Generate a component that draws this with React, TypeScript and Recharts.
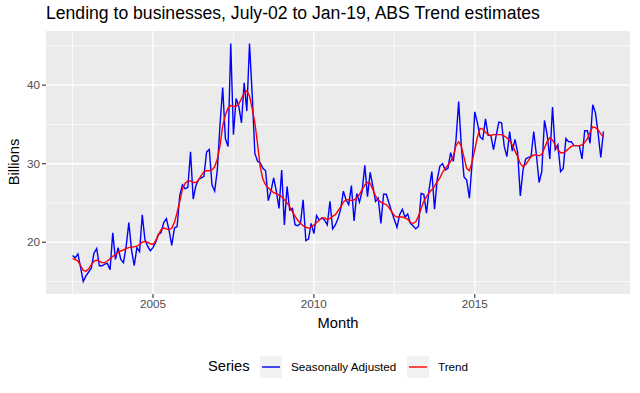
import { LineChart, Line, XAxis, YAxis, CartesianGrid } from "recharts";

// monthly, July 2002 .. January 2019 ($ billions)
const START_YEAR = 2002.5;

const seasonallyAdjusted = [
  18.3, 18.0, 18.5, 16.8, 15.0, 15.7, 16.2, 16.7, 18.6, 19.2, 17.0, 17.0,
  17.2, 17.3, 16.5, 21.2, 17.8, 19.3, 17.8, 17.4, 19.5, 22.5, 19.0, 17.0,
  19.3, 18.8, 23.5, 20.3, 19.5, 18.9, 19.3, 20.0, 21.0, 21.2, 22.5, 23.0,
  21.5, 19.6, 21.8, 22.0, 26.0, 27.3, 26.8, 27.0, 31.5, 25.5, 27.2, 28.0,
  28.2, 28.4, 31.5, 31.8, 27.3, 26.5, 29.2, 35.0, 39.7, 33.2, 32.2, 45.3,
  33.7, 38.3, 37.3, 35.2, 40.3, 36.7, 45.3, 38.8, 31.3, 30.3, 30.1, 29.4,
  29.1, 25.3, 26.5, 28.2, 26.5, 24.3, 29.2, 22.2, 27.1, 24.1, 24.3, 22.2,
  22.1, 22.4, 25.4, 20.2, 20.4, 22.4, 21.1, 23.4, 22.8, 23.1, 22.8, 22.2,
  25.2, 21.7, 22.2, 23.0, 24.2, 26.5, 25.4, 24.8, 27.2, 22.7, 26.2, 25.1,
  26.5, 29.8, 25.8, 28.9, 27.1, 25.2, 25.6, 22.4, 26.1, 26.1, 25.0, 23.9,
  22.9, 21.9, 23.5, 24.2, 23.2, 23.6, 22.4, 22.1, 21.7, 22.0, 26.2, 26.1,
  23.7, 26.8, 29.0, 24.2, 28.0, 29.7, 30.0, 29.2, 29.4, 31.4, 30.3, 33.0,
  37.9, 32.2, 28.3, 27.9, 25.6, 30.0, 36.6, 35.2, 33.4, 33.1, 35.7, 33.6,
  33.6, 31.8, 33.6, 35.3, 35.2, 32.2, 30.9, 34.1, 31.6, 33.1, 31.4, 25.9,
  29.2, 30.6, 30.8, 30.9, 34.1, 31.1, 27.6, 29.0, 35.5, 33.7, 30.6, 37.2,
  31.8, 32.4, 29.0, 29.4, 33.2, 32.8, 32.8, 32.3, 32.3, 32.3, 30.6, 34.2,
  34.2, 32.6, 37.5, 36.5, 33.9, 30.8, 34.1,
];

const trend = [
  17.9, 17.8, 17.6, 17.0, 16.4, 16.3, 16.6, 17.1, 17.6, 17.7, 17.6, 17.4,
  17.4, 17.6, 17.9, 18.2, 18.4, 18.7, 18.9, 19.0, 19.2, 19.3, 19.4, 19.4,
  19.5, 19.7, 20.0, 20.1, 20.0, 19.8, 19.7, 20.2, 20.9, 21.6, 21.8, 21.7,
  21.6, 21.8, 22.5, 23.8, 25.2, 26.8, 27.5, 27.8, 27.8, 27.6, 27.6, 27.9,
  28.5, 29.0, 29.1, 29.1, 29.2, 29.6, 30.6, 32.3, 34.8, 36.2, 37.1, 37.4,
  37.3, 37.3, 37.6, 38.3, 39.0, 39.3, 38.6, 37.0, 35.2, 32.5, 29.6, 28.0,
  27.3, 26.9, 26.6, 26.3, 26.2, 26.0, 25.8, 25.4, 25.0, 24.5, 23.9, 23.3,
  22.8, 22.4, 22.1, 21.9, 21.8, 21.9, 22.2, 22.5, 22.8, 23.1, 23.1, 22.9,
  23.0, 23.3, 23.5, 24.0, 24.5, 25.1, 25.4, 25.4, 25.3, 25.4, 25.6, 26.1,
  26.7, 27.3, 27.6, 27.5, 26.7, 25.9, 25.4, 25.1, 24.9, 24.8, 24.4, 23.9,
  23.4, 23.2, 23.2, 23.2, 23.1, 22.9, 22.5, 22.4, 22.6, 23.3, 24.3, 25.2,
  25.8, 26.3, 26.7, 27.1, 27.7, 28.2, 28.9, 29.4, 29.8, 30.3, 30.9, 32.3,
  32.8, 32.2, 30.8, 29.4, 29.1, 30.2, 31.8, 33.4, 34.5, 34.4, 34.0, 33.7,
  33.6, 33.7, 33.7, 33.7, 33.7, 33.5, 33.3, 32.9, 32.4, 31.6, 30.9, 30.0,
  29.6, 29.9, 30.4, 30.9, 31.1, 31.1, 31.0, 31.2, 32.0, 32.8, 33.3, 33.0,
  32.4, 31.8, 31.4, 31.4, 31.6, 31.9, 32.2, 32.3, 32.3, 32.3, 32.4, 32.7,
  33.2, 34.0, 34.7, 34.6, 34.3, 33.8, 33.4,
];

const xTicks = [2005, 2010, 2015];
const xMinor = [2002.5, 2007.5, 2012.5, 2017.5];
const yTicks = [20, 30, 40];
const yMinor = [15, 25, 35, 45];

const data = seasonallyAdjusted.map((v, i) => ({
  t: START_YEAR + i / 12,
  sa: v,
  trend: trend[i],
}));

const FONT = '"Liberation Sans", Arial, sans-serif';
const tickStyle = { fill: "#4D4D4D", fontSize: 11.7, fontFamily: FONT };

export default function App() {
  return (
    <div
      style={{
        position: "absolute",
        left: 0,
        top: 0,
        width: 640,
        height: 393,
        background: "#fff",
        fontFamily: FONT,
      }}
    >
      <div style={{ position: "absolute", left: 46, top: 3, fontSize: 17.6, color: "#000", whiteSpace: "nowrap" }}>
        Lending to businesses, July-02 to Jan-19, ABS Trend estimates
      </div>

      <LineChart width={640} height={393} data={data} margin={{ top: 31, right: 10, bottom: 0, left: 0 }}>
        <CartesianGrid fill="#EBEBEB" stroke="#FFFFFF" strokeWidth={0.7} horizontalValues={yMinor} verticalValues={xMinor} />
        <CartesianGrid stroke="#FFFFFF" strokeWidth={1.4} horizontalValues={yTicks} verticalValues={xTicks} />
        <XAxis
          dataKey="t"
          type="number"
          domain={[2001.675, 2019.825]}
          ticks={xTicks}
          allowDataOverflow
          height={99}
          axisLine={false}
          tickLine={{ stroke: "#333333", strokeWidth: 1.1 }}
          tickSize={4}
          tickMargin={2}
          tick={tickStyle}
        />
        <YAxis
          type="number"
          domain={[13.4, 46.9]}
          ticks={yTicks}
          allowDataOverflow
          width={46}
          axisLine={false}
          tickLine={{ stroke: "#333333", strokeWidth: 1.1 }}
          tickSize={4}
          tickMargin={2}
          tick={tickStyle}
        />
        <Line dataKey="sa" type="linear" stroke="#0000FF" strokeWidth={1.4} dot={false} isAnimationActive={false} />
        <Line dataKey="trend" type="linear" stroke="#FF0000" strokeWidth={1.4} dot={false} isAnimationActive={false} />
      </LineChart>

      <div style={{ position: "absolute", left: 0, width: 676, top: 315, textAlign: "center", fontSize: 14.7 }}>Month</div>
      <div
        style={{
          position: "absolute",
          left: 14,
          top: 162,
          fontSize: 14.7,
          transform: "translate(-50%, -50%) rotate(-90deg)",
          whiteSpace: "nowrap",
        }}
      >
        Billions
      </div>

      <div style={{ position: "absolute", left: 208, top: 358, fontSize: 14.7, whiteSpace: "nowrap" }}>Series</div>
      <svg style={{ position: "absolute", left: 260, top: 356 }} width={22} height={22}>
        <rect width={22} height={22} fill="#F2F2F2" />
        <line x1={2} x2={20} y1={11} y2={11} stroke="#0000FF" strokeWidth={1.4} />
      </svg>
      <div style={{ position: "absolute", left: 291, top: 360, fontSize: 11.7, whiteSpace: "nowrap" }}>Seasonally Adjusted</div>
      <svg style={{ position: "absolute", left: 407, top: 356 }} width={22} height={22}>
        <rect width={22} height={22} fill="#F2F2F2" />
        <line x1={2} x2={20} y1={11} y2={11} stroke="#FF0000" strokeWidth={1.4} />
      </svg>
      <div style={{ position: "absolute", left: 438, top: 360, fontSize: 11.7, whiteSpace: "nowrap" }}>Trend</div>
    </div>
  );
}
